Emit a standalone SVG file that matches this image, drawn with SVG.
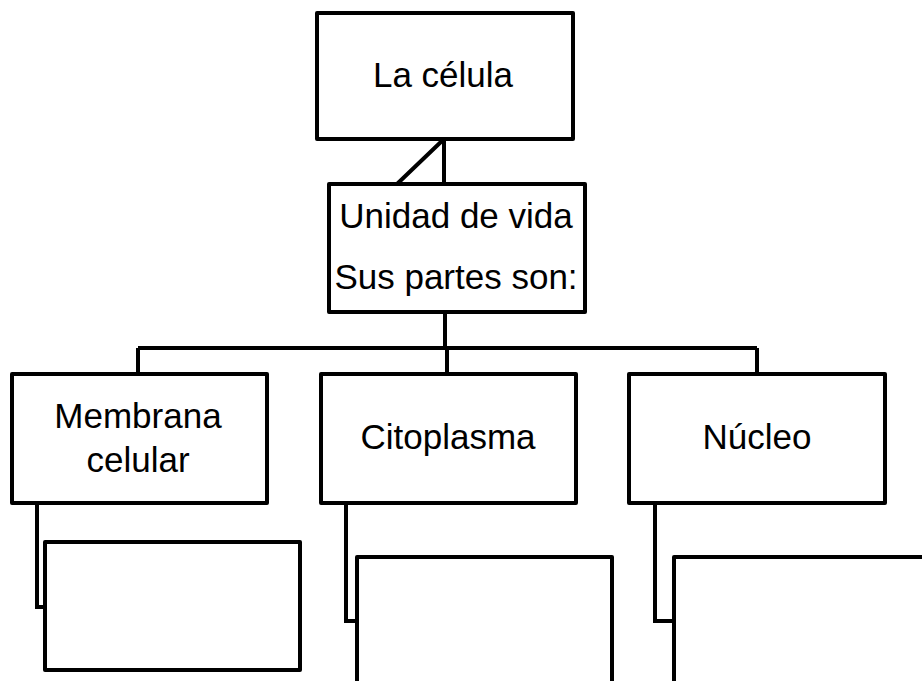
<svg xmlns="http://www.w3.org/2000/svg" width="922" height="681" viewBox="0 0 922 681">
<style>
.box{fill:#fff;stroke:#000;stroke-width:4;stroke-linejoin:round}
.ln{fill:none;stroke:#000;stroke-width:4}
.t{font-family:"Liberation Sans",Arial,sans-serif;font-size:35px;fill:#000;text-anchor:middle}
</style>
<rect width="922" height="681" fill="#fff"/>
<g id="connectors">
<path class="ln" d="M444 139V184M444 139L397 184"/>
<path class="ln" d="M445 312V348M138 348H757M138 348V374M447 348V374M757 348V374"/>
<path class="ln" d="M37 503V607H45"/>
<path class="ln" d="M346 503V621H357"/>
<path class="ln" d="M655 503V621H674"/>
</g>
<g id="n-celula">
<rect class="box" x="317" y="13" width="256" height="126"/>
<text class="t" x="443" y="87">La célula</text>
</g>
<g id="n-unidad">
<rect class="box" x="329" y="184" width="256" height="128"/>
<text class="t" x="456" y="228">Unidad de vida</text>
<text class="t" x="456" y="289">Sus partes son:</text>
</g>
<g id="n-membrana">
<rect class="box" x="12" y="374" width="255" height="129"/>
<text class="t" x="138" y="428">Membrana</text>
<text class="t" x="138" y="472">celular</text>
</g>
<g id="n-citoplasma">
<rect class="box" x="321" y="374" width="255" height="129"/>
<text class="t" x="448" y="449">Citoplasma</text>
</g>
<g id="n-nucleo">
<rect class="box" x="629" y="374" width="256" height="129"/>
<text class="t" x="757" y="449">Núcleo</text>
</g>
<g id="n-membrana-child">
<rect class="box" x="45" y="542" width="255" height="128"/>
</g>
<g id="n-citoplasma-child">
<rect class="box" x="357" y="557" width="255" height="140"/>
</g>
<g id="n-nucleo-child">
<rect class="box" x="674" y="557" width="270" height="140"/>
</g>
</svg>
